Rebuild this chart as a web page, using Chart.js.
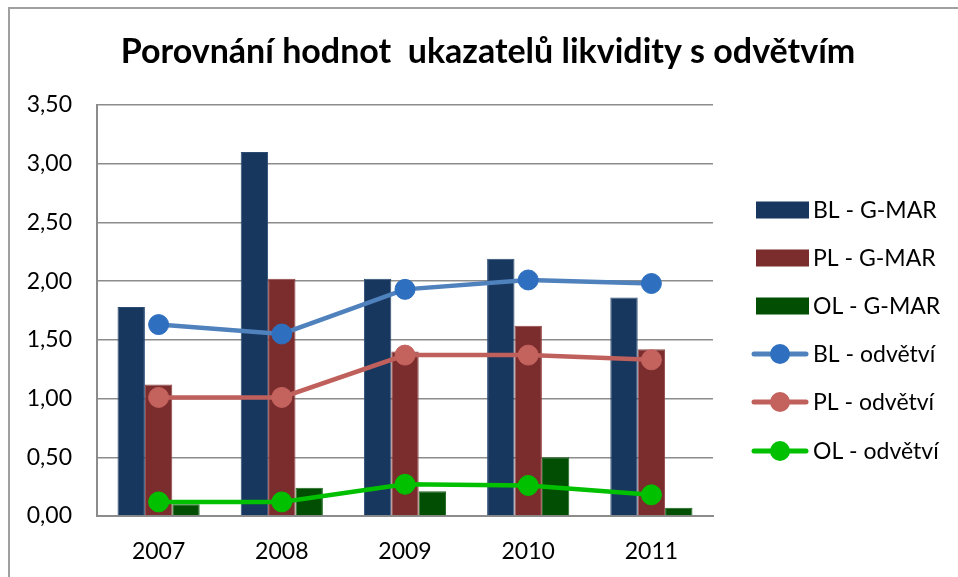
<!DOCTYPE html>
<html>
<head>
<meta charset="utf-8">
<script src="https://cdn.jsdelivr.net/npm/chart.js@4.4.1/dist/chart.umd.min.js"></script>
<style>
  html, body { margin: 0; padding: 0; background: #fff; }
  #wrap { position: relative; width: 958px; height: 577px; }
</style>
</head>
<body>
<div id="wrap"><canvas id="c" width="958" height="577"></canvas></div>
<script>
const titleText = 'Porovnání hodnot  ukazatelů likvidity s odvětvím';
const years = ['2007', '2008', '2009', '2010', '2011'];
const blGmar = [1.78, 3.10, 2.02, 2.19, 1.86];
const plGmar = [1.12, 2.02, 1.40, 1.62, 1.42];
const olGmar = [0.10, 0.24, 0.21, 0.50, 0.07];
const blOdvetvi = [1.63, 1.55, 1.93, 2.01, 1.98];
const plOdvetvi = [1.01, 1.01, 1.37, 1.37, 1.33];
const olOdvetvi = [0.12, 0.12, 0.27, 0.26, 0.18];
const yTicks = [0, 0.5, 1, 1.5, 2, 2.5, 3, 3.5];

const FONT = 'Lato, "Open Sans", sans-serif';
const GRID = '#8c8c8c';

const frame = {
  id: 'frame',
  beforeDraw(chart) {
    const ctx = chart.ctx;
    ctx.save();
    ctx.fillStyle = '#fff';
    ctx.fillRect(0, 0, chart.width, chart.height);
    ctx.strokeStyle = '#a0a0a0';
    ctx.lineWidth = 2;
    ctx.beginPath();
    ctx.moveTo(9, chart.height + 2);
    ctx.lineTo(9, 8);
    ctx.lineTo(chart.width + 2, 8);
    ctx.stroke();
    // title
    ctx.fillStyle = '#000';
    ctx.font = 'bold 34px ' + FONT;
    ctx.textAlign = 'center';
    ctx.textBaseline = 'alphabetic';
    ctx.fillText(titleText, 488, 63);
    ctx.restore();
  },
  afterDraw(chart) {
    const ctx = chart.ctx;
    ctx.save();
    const rows = [210, 258, 306, 354, 402, 451];
    chart.data.datasets.forEach((ds, i) => {
      const y = rows[i];
      if (ds.type === 'bar') {
        ctx.fillStyle = ds.backgroundColor;
        ctx.fillRect(756, y - 8.5, 53, 17);
      } else {
        ctx.strokeStyle = ds.borderColor;
        ctx.lineWidth = 5;
        ctx.lineCap = 'round';
        ctx.beginPath();
        ctx.moveTo(754, y);
        ctx.lineTo(806, y);
        ctx.stroke();
        ctx.fillStyle = ds.pointBackgroundColor;
        ctx.beginPath();
        ctx.arc(780, y, 10, 0, Math.PI * 2);
        ctx.fill();
      }
      ctx.fillStyle = '#000';
      ctx.font = '23px ' + FONT;
      ctx.textAlign = 'left';
      ctx.textBaseline = 'middle';
      ctx.fillText(ds.label, 813, y + 1);
    });
    ctx.restore();
  }
};

const barDs = (label, data, color, border) => ({
  type: 'bar', label, data, backgroundColor: color, borderColor: border,
  borderWidth: 1, order: 2, categoryPercentage: 0.667, barPercentage: 1.0
});
const lineDs = (label, data, line, point) => ({
  type: 'line', label, data, borderColor: line, backgroundColor: point,
  borderWidth: 4.5, pointRadius: 10, pointHoverRadius: 10,
  pointBackgroundColor: point, pointBorderColor: point, pointBorderWidth: 1,
  tension: 0, order: 1
});

new Chart(document.getElementById('c'), {
  data: {
    labels: years,
    datasets: [
      barDs('BL - G-MAR', blGmar, '#17375e', '#2c4c74'),
      barDs('PL - G-MAR', plGmar, '#7b2c2c', '#944444'),
      barDs('OL - G-MAR', olGmar, '#024e02', '#1b661b'),
      lineDs('BL - odvětví', blOdvetvi, '#4f81bd', '#2f6fbf'),
      lineDs('PL - odvětví', plOdvetvi, '#c0605c', '#c4625e'),
      lineDs('OL - odvětví', olOdvetvi, '#00c000', '#00c000')
    ]
  },
  options: {
    responsive: false,
    animation: false,
    devicePixelRatio: 1,
    layout: { padding: { top: 105, right: 245, bottom: 0, left: 0 } },
    plugins: { legend: { display: false }, title: { display: false }, tooltip: { enabled: false } },
    scales: {
      x: {
        offset: true,
        grid: { display: false, drawTicks: false },
        border: { display: true, color: GRID, width: 2 },
        ticks: { color: '#000', font: { family: FONT, size: 23 }, padding: 22 },
        afterFit(scale) { scale.height = 61; }
      },
      y: {
        min: 0, max: 3.5,
        afterBuildTicks(scale) { scale.ticks = yTicks.map(v => ({ value: v })); },
        grid: { color: GRID, lineWidth: 1.5, drawTicks: false },
        border: { display: true, color: GRID, width: 2 },
        ticks: {
          color: '#000', font: { family: FONT, size: 23 }, padding: 25,
          callback: v => Number(v).toFixed(2).replace('.', ',')
        },
        afterFit(scale) { scale.width = 97; }
      }
    }
  },
  plugins: [frame]
});
</script>
</body>
</html>
